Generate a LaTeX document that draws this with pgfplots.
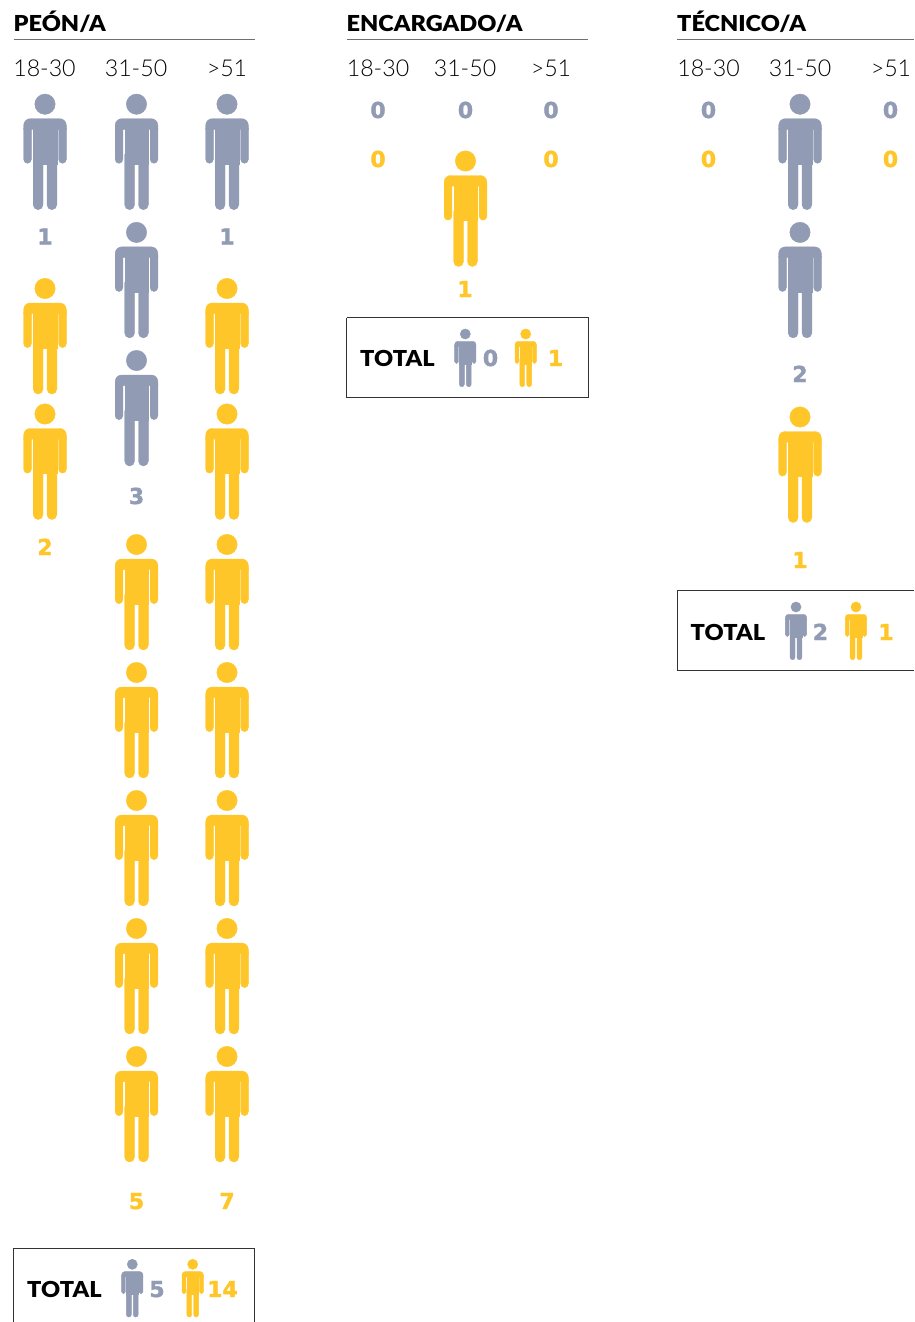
\documentclass[border=0pt]{standalone}
\usepackage{fontspec}
\setmainfont{Lato}[BoldFont={Lato Black},BoldFeatures={FakeStretch=1.07}]
\newfontfamily\agefont{Lato Light}
\newfontfamily\numfont{DejaVu Sans}[BoldFont={DejaVu Sans Bold},BoldFeatures={FakeBold=1.6}]
\usepackage{pgfplots}
\pgfplotsset{compat=1.18}
\definecolor{gris}{HTML}{919BB3}
\definecolor{amarillo}{HTML}{FFC629}
\definecolor{regla}{HTML}{707070}

% pictogram, origin at the centre of the head
\newcommand{\declareperson}[2]{%
  \pgfdeclareplotmark{#1}{%
    \fill[#2] (0,0) circle (10.2pt);
    % shoulders
    \fill[#2] (-21.3pt,-25.1pt) -- (-21.3pt,-21pt) arc[start angle=180,end angle=90,radius=6.5pt]
      -- (14.8pt,-14.5pt) arc[start angle=90,end angle=0,radius=6.5pt] -- (21.3pt,-25.1pt) -- cycle;
    % arms
    \fill[#2] (-21.3pt,-24pt) -- (-21.3pt,-55.3pt) arc[start angle=180,end angle=360,radius=3.8pt] -- (-13.7pt,-24pt) -- cycle;
    \fill[#2] (13.7pt,-24pt) -- (13.7pt,-55.3pt) arc[start angle=180,end angle=360,radius=3.8pt] -- (21.3pt,-24pt) -- cycle;
    % torso
    \fill[#2] (-11.8pt,-16pt) rectangle (11.8pt,-59.6pt);
    % legs
    \fill[#2] (-11.8pt,-50pt) -- (-11.8pt,-100.6pt) arc[start angle=180,end angle=360,radius=4.9pt] -- (-2pt,-50pt) -- cycle;
    \fill[#2] (2pt,-50pt) -- (2pt,-100.6pt) arc[start angle=180,end angle=360,radius=4.9pt] -- (11.8pt,-50pt) -- cycle;
  }%
}
\declareperson{pgris}{gris}
\declareperson{pamar}{amarillo}

\newcommand{\head}[2]{\node[anchor=base west,font=\fontsize{22}{22}\selectfont\bfseries,text=black,inner sep=0pt] at (axis cs:#1,32) {#2};}
\newcommand{\age}[2]{\node[anchor=base,font=\agefont\fontsize{23.2}{23.2}\selectfont,text=black,inner sep=0pt] at (axis cs:#1,76.5) {#2};}
\newcommand{\num}[4]{\node[anchor=base,font=\numfont\fontsize{22}{22}\selectfont\bfseries,text=#4,inner sep=0pt] at (axis cs:#1,#2) {#3};}
\newcommand{\total}[2]{\node[anchor=base west,font=\fontsize{22}{22}\selectfont\bfseries,text=black,inner sep=0pt] at (axis cs:#1,#2) {TOTAL};}

\begin{document}
\begin{tikzpicture}
\begin{axis}[
  scale only axis,
  width=914pt, height=1322pt,
  xmin=0, xmax=914, ymin=0, ymax=1322,
  y dir=reverse,
  hide axis,
  clip=true,
]
% rules and boxes
\addplot[regla,line width=1pt] coordinates {(13.5,40) (255,40)};
\addplot[regla,line width=1pt] coordinates {(346.5,40) (588,40)};
\addplot[regla,line width=1pt] coordinates {(677,40) (914,40)};
\addplot[black!80,line width=1pt] coordinates {(13.5,1322) (13.5,1248) (254.5,1248) (254.5,1322)};
\addplot[black!80,line width=1pt] coordinates {(346.5,317.5) (588,317.5) (588,397.5) (346.5,397.5) (346.5,317.5)};
\addplot[black!80,line width=1pt] coordinates {(914,590.5) (677,590.5) (677,670.5) (914,670.5)};

% large figures
\addplot[only marks,mark=pgris] coordinates {
  (45,104.2)
  (136.5,104.2) (136.5,232.4) (136.5,360.5)
  (227,104.2)
  (800,104.2) (800,232.4)
};
\addplot[only marks,mark=pamar] coordinates {
  (45,288.5) (45,414)
  (136.5,544.5) (136.5,672.5) (136.5,800.5) (136.5,928.5) (136.5,1056.5)
  (227,288.5) (227,414) (227,544.5) (227,672.5) (227,800.5) (227,928.5) (227,1056.5)
  (465.5,161)
  (800,417)
};
% small figures in the totals
\addplot[only marks,mark=pgris,mark options={scale=0.5}] coordinates {(132.3,1264.3) (465.3,334) (796,607)};
\addplot[only marks,mark=pamar,mark options={scale=0.5}] coordinates {(192.7,1264.3) (525.7,334) (856,607)};

\head{13.5}{PEÓN/A}
\head{346.5}{ENCARGADO/A}
\head{677}{TÉCNICO/A}

\age{44.5}{18-30}
\age{136}{31-50}
\age{227}{>51}
\age{378}{18-30}
\age{465}{31-50}
\age{551}{>51}
\age{708.5}{18-30}
\age{800}{31-50}
\age{891}{>51}

\num{45}{244.5}{1}{gris}
\num{227}{244.5}{1}{gris}
\num{136.5}{504}{3}{gris}
\num{45}{555}{2}{amarillo}
\num{136.5}{1209}{5}{amarillo}
\num{227}{1209}{7}{amarillo}

\num{378}{118}{0}{gris}
\num{465.5}{118}{0}{gris}
\num{551}{118}{0}{gris}
\num{378}{167}{0}{amarillo}
\num{551}{167}{0}{amarillo}
\num{465}{297}{1}{amarillo}

\num{708.5}{118}{0}{gris}
\num{890.5}{118}{0}{gris}
\num{708.5}{167}{0}{amarillo}
\num{890.5}{167}{0}{amarillo}
\num{800}{382}{2}{gris}
\num{800}{568}{1}{amarillo}

\total{27}{1297}
\num{157}{1297}{5}{gris}
\num{222.5}{1297}{14}{amarillo}
\total{360}{366}
\num{490.5}{366}{0}{gris}
\num{555.5}{366}{1}{amarillo}
\total{690.5}{640}
\num{820.5}{640}{2}{gris}
\num{886}{640}{1}{amarillo}
\end{axis}
\pgfresetboundingbox
\useasboundingbox (0,0) rectangle (914pt,1322pt);
\end{tikzpicture}
\end{document}
